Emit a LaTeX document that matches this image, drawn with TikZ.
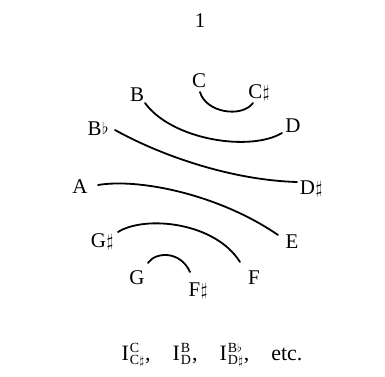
\documentclass[tikz,border=0pt]{standalone}
\usepackage{fontspec}
\setmainfont{Liberation Serif}
\newcommand{\shp}{\kern0.03em\raisebox{0.05ex}{\scalebox{0.85}{$\sharp$}}}
\newcommand{\flt}{\kern0.02em\raisebox{0.1ex}{\scalebox{0.8}{$\flat$}}}
\newcommand{\scr}[1]{\mbox{\fontsize{14}{14}\selectfont #1}}
\newcommand{\IS}[2]{I\kern1bp\rlap{\raisebox{7.5bp}{\scr{#1}}}\raisebox{-4bp}{\scr{#2}}}
\begin{document}
\begin{tikzpicture}[x=1bp,y=-1bp,
  lab/.style={inner sep=1.5bp,font=\fontsize{21}{22}\selectfont},
  arc/.style={line width=1.8bp,line cap=round}]
\useasboundingbox (0,0) rectangle (385,377);
\node[lab] (one) at (200,21) {1};
\node[lab] (C) at (199,81) {C};
\node[lab] (Cs) at (259,93) {C\shp};
\node[lab] (B) at (137,95) {B};
\node[lab] (D) at (293,126) {D};
\node[lab] (Bb) at (98,129) {B\flt};
\node[lab] (A) at (80,187) {A};
\node[lab] (Ds) at (311,189) {D\shp};
\node[lab] (Gs) at (102,242) {G\shp};
\node[lab] (E) at (292,242) {E};
\node[lab] (G) at (137,278) {G};
\node[lab] (F) at (254,278) {F};
\node[lab] (Fs) at (198,291) {F\shp};
\node[inner sep=0pt,font=\fontsize{22}{23}\selectfont] (cap) at (212,355)
  {\IS{C}{C\shp}\kern1bp,\hspace{22bp}\IS{B}{D}\kern1bp,\hspace{22bp}\IS{B\flt}{D\shp}\kern1bp,\hspace{22bp}etc.};
\draw[arc] ([shift={(1,11)}]C.center) .. controls +(6,21) and +(-11,15) .. ([shift={(-6,10)}]Cs.center);
\draw[arc] ([shift={(8,8)}]B.center) .. controls +(27,37) and +(-32,19) .. ([shift={(-11,7)}]D.center);
\draw[arc] ([shift={(17,1)}]Bb.center) .. controls +(45,25) and +(-67,-2) .. ([shift={(-14,-7)}]Ds.center);
\draw[arc] ([shift={(18,-2)}]A.center) .. controls +(42,-7) and +(-58,-40) .. ([shift={(-14,-7)}]E.center);
\draw[arc] ([shift={(16,-10)}]Gs.center) .. controls +(27,-17) and +(-25,-40) .. ([shift={(-14,-16)}]F.center);
\draw[arc] ([shift={(11,-15)}]G.center) .. controls +(7,-11) and +(-10,-22) .. ([shift={(-8,-19)}]Fs.center);
\end{tikzpicture}
\end{document}
